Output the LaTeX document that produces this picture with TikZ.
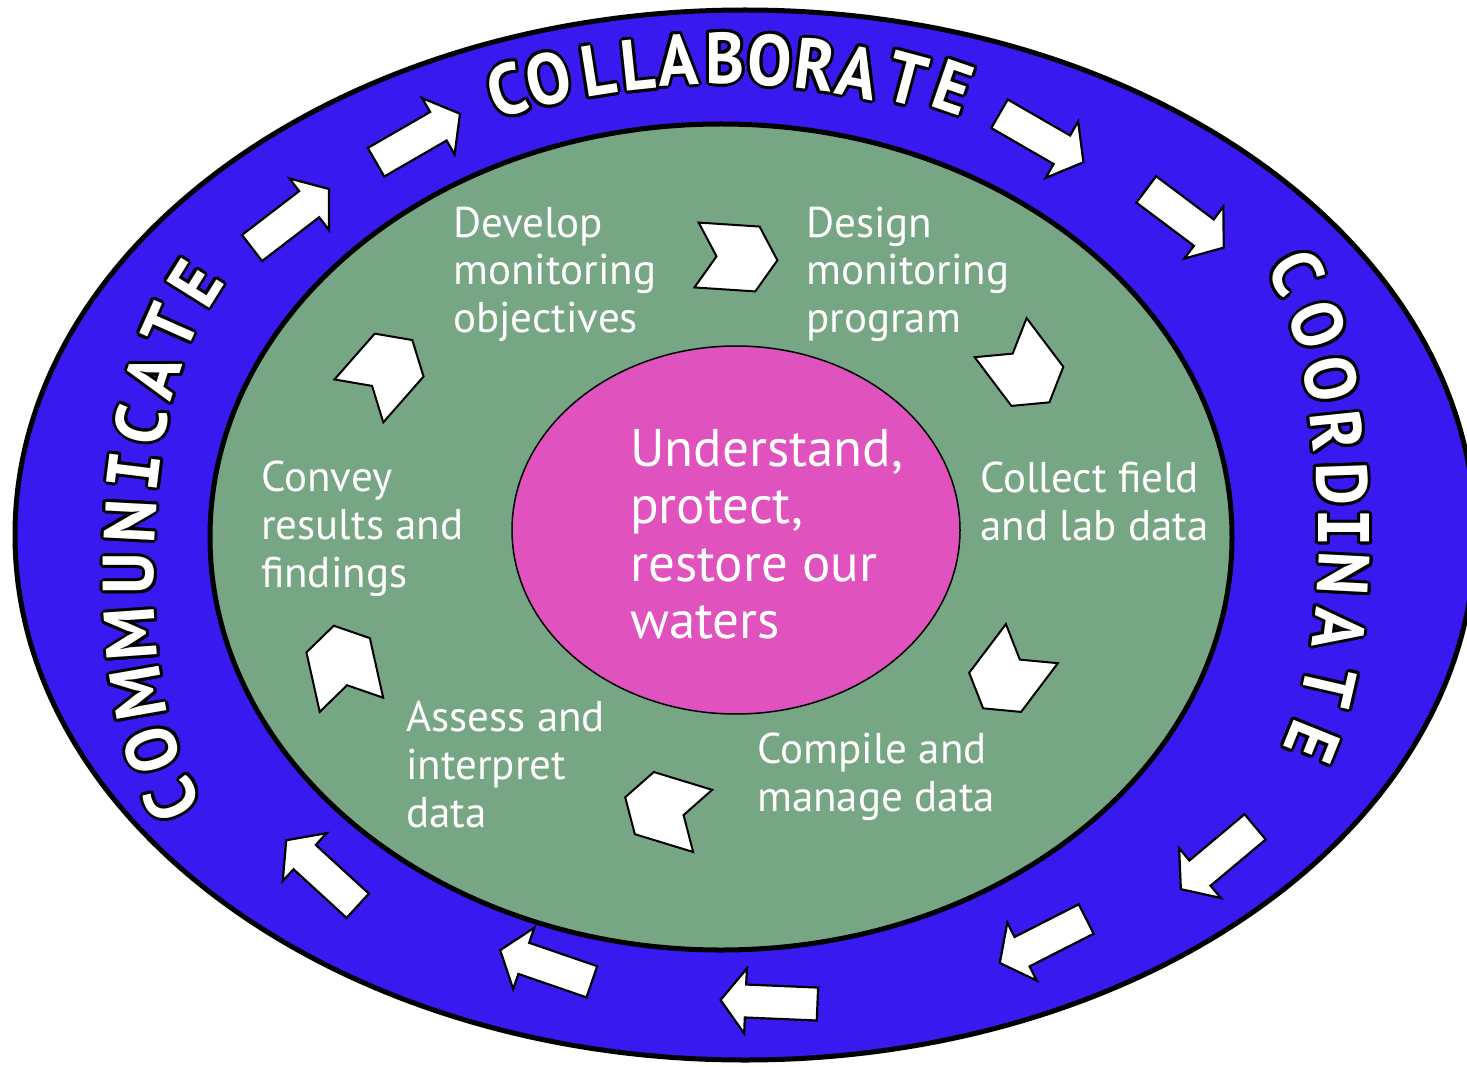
\documentclass[tikz,border=0pt]{standalone}
\usepackage{fontspec}
\setmainfont{PT Sans}
\newfontfamily\ringfont{PT Sans}
\newfontfamily\ibarfont{DejaVu Sans Mono}
\usetikzlibrary{calc}
\definecolor{ringblue}{RGB}{56,26,240}
\definecolor{midgreen}{RGB}{119,166,132}
\definecolor{corepink}{RGB}{224,82,190}
\tikzset{
  blockarrow/.pic={\draw[fill=white,line width=2.2pt,line join=miter]
    (-48.5,16.5) -- (23.5,16.5) -- (23.5,32.5) -- (48.5,0) -- (23.5,-32.5) -- (23.5,-16.5) -- (-48.5,-16.5) -- cycle;},
  chevronpic/.pic={\draw[fill=white,line width=2pt,line join=miter]
    (-30.5,32.5) -- (30.5,32.5) -- (50.5,0) -- (30.5,-32.5) -- (-30.5,-32.5) -- (-10.5,0) -- cycle;},
  ringtxt/.style={font=\ringfont\bfseries\fontsize{72}{72}\selectfont,inner sep=0pt,xscale=0.92},
  innertxt/.style={text=white,align=left,inner sep=0pt,anchor=base west,font=\fontsize{43}{48}\selectfont},
  coretxt/.style={text=white,align=left,inner sep=0pt,anchor=base west,font=\fontsize{53}{57.5}\selectfont}
}
\newcommand\rlet[4]{%
  \foreach \ang in {0,30,...,330}{\node[rotate=#3,ringtxt,text=black] at ([shift={(\ang:3)}]#1,-#2) {#4};}%
  \node[rotate=#3,ringtxt,text=white] at (#1,-#2) {#4};}
\newcommand\ibar{{\ibarfont\bfseries\fontsize{70}{70}\selectfont I}}
\begin{document}
\begin{tikzpicture}[x=1pt,y=1pt]
\useasboundingbox (0,0) rectangle (1467,-1067);
\clip (0,0) rectangle (1467,-1067);
\fill[white] (0,0) rectangle (1467,-1067);
% rings
\draw[line width=5pt,fill=ringblue] (745,-535) ellipse [x radius=730, y radius=525];
\draw[line width=5pt,fill=midgreen] (721,-537) ellipse [x radius=511, y radius=413];
\draw[line width=1.5pt,fill=corepink] (736,-530) ellipse [x radius=224, y radius=184];
% ring arrows
\pic[rotate=37.5] at (290.5,-218.5) {blockarrow};
\pic[rotate=30] at (418,-138) {blockarrow};
\pic[rotate=-30] at (1041.5,-138) {blockarrow};
\pic[rotate=-36.9] at (1185,-218.5) {blockarrow};
\pic[rotate=-140] at (1218,-858) {blockarrow};
\pic[rotate=-153] at (1043,-941) {blockarrow};
\pic[rotate=177.6] at (769,-1002) {blockarrow};
\pic[rotate=161] at (546,-966) {blockarrow};
\pic[rotate=137.5] at (322,-873) {blockarrow};
% chevrons
\pic[rotate=-3.75] at (727,-257) {chevronpic};
\pic[rotate=-53] at (1019,-362) {chevronpic};
\pic[rotate=-127] at (1013.5,-668) {chevronpic};
\pic[rotate=163] at (673.5,-812) {chevronpic};
\pic[rotate=102.6] at (344.8,-675) {chevronpic};
\pic[rotate=48.7] at (379,-378) {chevronpic};
% ring words
\rlet{507}{90}{17}{C}
\rlet{548}{79}{13}{O}
\rlet{598}{70}{9}{L}
\rlet{638}{65}{6}{L}
\rlet{678}{60}{3}{A}
\rlet{725}{58}{0}{B}
\rlet{770}{60}{-3}{O}
\rlet{815}{65}{-7}{R}
\rlet{858}{72}{-11}{A}
\rlet{907}{79}{-15}{T}
\rlet{953}{87}{-19}{E}
%
\rlet{172}{800}{115}{C}
\rlet{152}{750}{108}{O}
\rlet{138}{693}{100}{M}
\rlet{131}{634}{94}{M}
\rlet{129}{574}{90}{U}
\rlet{130}{521}{87}{N}
\rlet{134}{471}{83}{\ibar}
\rlet{141}{425}{78}{C}
\rlet{153}{376}{72}{A}
\rlet{170}{327}{66}{T}
\rlet{195}{283}{58}{E}
%
\rlet{1296}{272}{-62}{C}
\rlet{1318}{325}{-70}{O}
\rlet{1331}{379}{-78}{O}
\rlet{1337}{431}{-84}{R}
\rlet{1342}{484}{-88}{D}
\rlet{1344}{528}{-90}{\ibar}
\rlet{1344}{574}{-93}{N}
\rlet{1339}{629}{-97}{A}
\rlet{1329}{686}{-103}{T}
\rlet{1312}{742}{-112}{E}
% inner texts (anchor = baseline of last line)
\node[innertxt] (develop) at (453,-333) {Develop\\monitoring\\objectives};
\node[innertxt] (design) at (806,-333) {Design\\monitoring\\program};
\node[innertxt] (collect) at (980,-540) {Collect field\\and lab data};
\node[innertxt] (compile) at (757,-811) {Compile and\\manage data};
\node[innertxt] (assess) at (406,-827) {Assess and\\interpret\\data};
\node[innertxt] (convey) at (261,-587) {Convey\\results and\\findings};
\node[coretxt] (goal) at (630,-638.5) {Understand,\\protect,\\restore our\\waters};
\end{tikzpicture}
\end{document}
